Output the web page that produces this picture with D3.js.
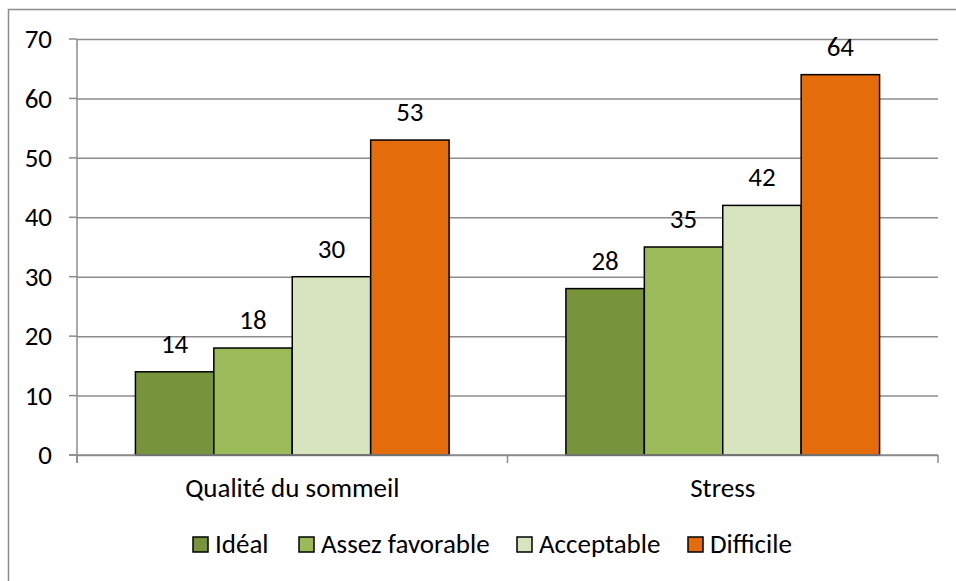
<!DOCTYPE html>
<meta charset="utf-8">
<body>
<script src="https://cdn.jsdelivr.net/npm/d3@7"></script>
<style>
    html, body {
        margin: 0;
        background: #fff;
    }
    text {
        font-family: Carlito, Lato, "Open Sans", sans-serif;
        fill: #000;
    }
</style>
<script>
var categories = ["Qualité du sommeil", "Stress"],
    series = ["Idéal", "Assez favorable", "Acceptable", "Difficile"],
    colors = ["#77933c", "#9bbb59", "#d7e4bd", "#e46c0a"],
    values = [
        [14, 18, 30, 53],   // Qualité du sommeil
        [28, 35, 42, 64]    // Stress
    ],
    yTicks = [0, 10, 20, 30, 40, 50, 60, 70];

var width = 956, height = 581,
    plotLeft = 77, plotRight = 938, plotTop = 39, plotBottom = 455,
    fs = 27;

var svg = d3.select("body").append("svg")
    .attr("width", width)
    .attr("height", height);

// outer chart frame (only top and left edges are visible)
svg.append("rect")
    .attr("x", 8.5).attr("y", 9.5)
    .attr("width", 1200).attr("height", 1200)
    .attr("fill", "none")
    .attr("stroke", "#8c8c8c")
    .attr("stroke-width", 1.5);

var y = d3.scaleLinear().domain([0, 70]).range([plotBottom, plotTop]);

var x0 = d3.scaleBand().domain(categories).range([plotLeft, plotRight]);
var x1 = d3.scaleBand().domain(series).range([0, x0.bandwidth()])
    .paddingInner(0).paddingOuter(0.745);

// gridlines + y axis labels
svg.append("g")
    .attr("transform", "translate(" + plotLeft + ",0)")
    .call(d3.axisLeft(y).tickValues(yTicks).tickSize(-(plotRight - plotLeft)).tickSizeOuter(0).tickPadding(25))
    .call(function(g) {
        g.select(".domain").remove();
        g.selectAll(".tick line").attr("stroke", "#8c8c8c").attr("stroke-width", 1.5);
        g.selectAll(".tick text").attr("font-size", fs).attr("font-family", null);
    });

// small left tick marks
svg.append("g").selectAll("line")
    .data(yTicks)
    .enter().append("line")
    .attr("x1", plotLeft - 8).attr("x2", plotLeft)
    .attr("y1", function(d) { return y(d); })
    .attr("y2", function(d) { return y(d); })
    .attr("stroke", "#8c8c8c").attr("stroke-width", 1.5);

// y axis line
svg.append("line")
    .attr("x1", plotLeft).attr("x2", plotLeft)
    .attr("y1", plotTop).attr("y2", plotBottom + 8)
    .attr("stroke", "#8c8c8c").attr("stroke-width", 1.5);

// bars
var groups = svg.selectAll(".grp")
    .data(categories)
    .enter().append("g")
    .attr("class", "grp")
    .attr("transform", function(d) { return "translate(" + x0(d) + ",0)"; });

groups.selectAll("rect")
    .data(function(d, i) { return values[i].map(function(v, j) { return {s: series[j], v: v, c: colors[j]}; }); })
    .enter().append("rect")
    .attr("x", function(d) { return x1(d.s); })
    .attr("y", function(d) { return y(d.v); })
    .attr("width", x1.bandwidth())
    .attr("height", function(d) { return y(0) - y(d.v); })
    .attr("fill", function(d) { return d.c; })
    .attr("stroke", "#000")
    .attr("stroke-width", 1.5);

groups.selectAll("text")
    .data(function(d, i) { return values[i].map(function(v, j) { return {s: series[j], v: v}; }); })
    .enter().append("text")
    .attr("x", function(d) { return x1(d.s) + x1.bandwidth() / 2; })
    .attr("y", function(d) { return y(d.v) - 19; })
    .attr("text-anchor", "middle")
    .attr("font-size", fs)
    .text(function(d) { return d.v; });

// x axis baseline with ticks
svg.append("line")
    .attr("x1", plotLeft - 8).attr("x2", plotRight)
    .attr("y1", plotBottom).attr("y2", plotBottom)
    .attr("stroke", "#8c8c8c").attr("stroke-width", 1.5);

var xTicks = [plotLeft, x0(categories[1]), plotRight];
svg.selectAll(".xt")
    .data(xTicks)
    .enter().append("line")
    .attr("x1", function(d) { return d; }).attr("x2", function(d) { return d; })
    .attr("y1", plotBottom).attr("y2", plotBottom + 8)
    .attr("stroke", "#8c8c8c").attr("stroke-width", 1.5);

svg.selectAll(".cat")
    .data(categories)
    .enter().append("text")
    .attr("x", function(d) { return x0(d) + x0.bandwidth() / 2; })
    .attr("y", 497)
    .attr("text-anchor", "middle")
    .attr("font-size", fs)
    .text(function(d) { return d; });

// legend
var legendX = [193, 299, 517, 688];
var leg = svg.selectAll(".leg")
    .data(series)
    .enter().append("g")
    .attr("transform", function(d, i) { return "translate(" + legendX[i] + ",537)"; });

leg.append("rect")
    .attr("width", 15).attr("height", 15)
    .attr("fill", function(d, i) { return colors[i]; })
    .attr("stroke", "#000")
    .attr("stroke-width", 1.5);

leg.append("text")
    .attr("x", 22).attr("y", 16)
    .attr("font-size", fs)
    .text(function(d) { return d; });
</script>
